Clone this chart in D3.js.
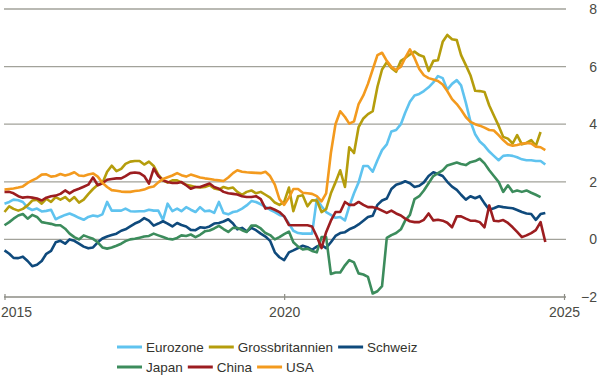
<!DOCTYPE html>
<html>
<head>
<meta charset="utf-8">
<script src="https://cdn.jsdelivr.net/npm/d3@7"></script>
<style>
  body { margin: 0; background: #fff; }
  svg text { font-family: "Liberation Sans", Arial, sans-serif; }
</style>
</head>
<body>
<div id="chart"></div>
<script>
// monthly core inflation, y/y in %, first month = Jan 2015
var startMonth = new Date(2015, 0, 1);

var eurozone = [
  1.24, 1.3, 1.38, 1.36, 1.3, 1.1, 1.02, 1.07, 0.97, 0.99,
  1.03, 0.7, 0.78, 0.85, 0.9, 0.83, 0.75, 0.68, 0.78, 0.83,
  0.8, 0.87, 1.3, 1.0, 1.0, 1.0, 1.07, 0.98, 0.97, 0.98,
  0.98, 1.03, 1.0, 1.0, 0.68, 1.24, 0.98, 1.07, 0.98, 1.12,
  1.03, 0.95, 1.12, 0.98, 1.0, 0.92, 1.3, 0.92, 0.87, 0.95,
  0.98, 1.07, 1.18, 1.33, 1.3, 1.22, 1.13, 1.03, 0.95, 0.85,
  0.8, 0.55, 0.3, 0.22, 0.2, 0.2, 0.2, 1.4, 1.15, 0.95,
  0.85, 0.75, 0.78, 0.66, 1.15, 1.6, 1.98, 2.55, 2.55, 2.35,
  2.75, 3.1, 3.3, 3.75, 3.8, 4.0, 4.4, 4.78, 5.0, 5.05,
  5.15, 5.28, 5.45, 5.67, 5.6, 5.2, 5.4, 5.53, 5.35, 4.75,
  4.1, 3.65, 3.4, 3.25, 3.05, 2.9, 2.75, 2.9, 2.92, 2.9,
  2.85, 2.78, 2.75, 2.75, 2.72, 2.72, 2.6
];

var grossbritannien = [
  0.95, 1.15, 1.06, 1.0, 1.06, 1.18, 1.35, 1.38, 1.24, 1.41,
  1.3, 1.47, 1.38, 1.47, 1.33, 1.47, 1.28, 1.38, 1.57, 1.75,
  1.9, 1.95, 2.35, 2.56, 2.37, 2.45, 2.62, 2.7, 2.72, 2.72,
  2.6, 2.7, 2.55, 2.25, 2.05, 1.97, 2.05, 2.05, 1.98, 1.9,
  1.86, 1.82, 1.8, 1.82, 1.88, 1.77, 1.73, 1.82, 1.77, 1.8,
  1.65, 1.55, 1.65, 1.7, 1.6, 1.65, 1.55, 1.45, 1.28, 1.2,
  1.3, 1.8, 0.98, 1.5, 1.53, 1.15, 1.36, 1.35, 0.95, 1.05,
  1.6, 1.98, 2.4, 1.82, 3.2, 3.0, 3.9, 4.2, 4.35, 4.45,
  5.3, 5.9, 6.15, 5.95, 5.82, 6.2, 6.3, 6.42, 6.52, 6.4,
  6.34, 5.85, 6.2, 6.22, 6.86, 7.1, 6.95, 6.92, 6.4, 6.05,
  5.7, 5.16, 5.15, 5.12, 4.65, 4.3, 3.95, 3.56, 3.5, 3.33,
  3.62, 3.3, 3.35, 3.45, 3.25, 3.73, null
];

var schweiz = [
  -0.38, -0.5, -0.64, -0.65, -0.6, -0.75, -0.93, -0.88, -0.75, -0.5,
  -0.4, -0.1, -0.05, -0.15, 0.0, -0.05, -0.15, -0.25, -0.31, -0.28,
  -0.1, 0.03, 0.1, 0.15, 0.2, 0.3, 0.35, 0.45, 0.55, 0.62,
  0.74, 0.65, 0.48, 0.55, 0.63, 0.55, 0.45, 0.57, 0.5, 0.45,
  0.33, 0.32, 0.42, 0.4, 0.45, 0.55, 0.57, 0.62, 0.7, 0.55,
  0.35, 0.4, 0.28, 0.4, 0.32, 0.2, 0.1, -0.05, -0.45, -0.62,
  -0.72, -0.45, -0.38, -0.3, -0.22, -0.27, -0.36, -0.25, -0.2, -0.3,
  -0.1, 0.12, 0.22, 0.25, 0.35, 0.42, 0.52, 0.65, 0.78, 0.82,
  1.2, 1.35, 1.42, 1.75, 1.9, 1.95, 2.02, 1.95, 1.82, 1.86,
  1.98, 2.2, 2.33, 2.27, 2.2, 2.0, 1.83, 1.72, 1.55, 1.38,
  1.5, 1.43, 1.5, 1.25, 1.03, 1.08, 1.15, 1.12, 1.1, 1.08,
  1.02, 0.95, 0.9, 0.88, 0.68, 0.88, 0.92
];

var japan = [
  0.49, 0.6, 0.72, 0.83, 0.88, 0.72, 0.85, 0.78, 0.6, 0.57,
  0.54, 0.49, 0.49, 0.37, 0.2, 0.08, 0.0, 0.14, 0.08, 0.02,
  -0.1, -0.28, -0.32, -0.28, -0.22, -0.15, -0.06, 0.0, 0.02, 0.06,
  0.1, 0.12, 0.2, 0.14, 0.08, 0.02, 0.0, 0.05, 0.14, 0.12,
  0.17, 0.08, 0.16, 0.28, 0.31, 0.38, 0.47, 0.36, 0.26, 0.4,
  0.4, 0.32, 0.26, 0.48, 0.48, 0.38, 0.22, 0.15, 0.0, 0.08,
  0.18, 0.27, -0.1, -0.25, -0.35, -0.32, -0.4, -0.45, 0.08, 0.08,
  -1.2, -1.15, -1.15, -0.9, -0.72, -0.8, -1.18, -1.22, -1.3, -1.88,
  -1.8, -1.62, 0.05, 0.15, 0.22, 0.35, 0.65, 0.85, 1.4, 1.5,
  1.7, 1.95, 2.2, 2.3, 2.4, 2.57, 2.62, 2.67, 2.62, 2.58,
  2.68, 2.72, 2.8, 2.64, 2.4, 2.2, 2.0, 1.65, 1.88, 1.65,
  1.7, 1.65, 1.7, 1.62, 1.55, 1.47, null
];

var china = [
  1.65, 1.65, 1.6, 1.5, 1.45, 1.47, 1.45, 1.42, 1.35, 1.45,
  1.5, 1.52, 1.58, 1.7, 1.6, 1.7, 1.76, 1.83, 1.9, 2.15,
  1.88, 1.95, 2.07, 2.1, 2.12, 2.12, 2.2, 2.3, 2.32, 2.3,
  2.2, 1.94, 2.46, 2.2, 2.05, 1.99, 1.96, 1.96, 1.99, 1.88,
  1.76, 1.82, 1.82, 1.88, 1.94, 1.82, 1.76, 1.65, 1.6, 1.58,
  1.56, 1.5, 1.47, 1.47, 1.5, 1.4, 1.07, 1.1, 1.03, 0.95,
  0.8, 0.5, 0.49, 0.49, 0.49, 0.49, 0.45, 0.1, -0.3, 0.25,
  0.65, 0.95, 0.95, 1.3, 1.2, 1.2, 1.3, 1.2, 1.12, 1.12,
  1.08, 1.0, 0.92, 1.0, 0.9, 0.83, 0.72, 0.63, 0.6, 0.6,
  0.68, 0.9, 0.66, 0.68, 0.65, 0.58, 0.42, 0.8, 0.8, 0.72,
  0.65, 0.65, 0.6, 0.42, 1.18, 0.65, 0.63, 0.67, 0.57, 0.42,
  0.26, 0.08, 0.14, 0.22, 0.32, 0.6, -0.09
];

var usa = [
  1.73, 1.75, 1.77, 1.8, 1.84, 1.96, 2.05, 2.13, 2.25, 2.26,
  2.18, 2.2, 2.27, 2.22, 2.26, 2.33, 2.22, 2.2, 2.25, 2.29,
  2.18, 1.97, 1.82, 1.71, 1.69, 1.66, 1.65, 1.65, 1.68, 1.7,
  1.73, 1.8, 1.84, 1.98, 2.1, 2.16, 2.22, 2.3, 2.23, 2.18,
  2.25, 2.2, 2.15, 2.12, 2.1, 2.07, 2.05, 2.03, 2.15, 2.3,
  2.4, 2.35, 2.33, 2.32, 2.31, 2.3, 2.35, 2.2, 1.9, 1.4,
  1.2, 1.45, 1.75, 1.75, 1.62, 1.6, 1.58, 1.5, 1.32, 1.6,
  3.0, 4.0, 4.45, 4.25, 4.02, 4.1, 4.7, 5.0, 5.4, 5.9,
  6.4, 6.48, 6.2, 5.99, 5.88, 6.0, 6.3, 6.6, 6.3, 5.92,
  5.7, 5.6, 5.55, 5.5, 5.38, 5.15, 4.87, 4.7, 4.5, 4.25,
  4.08, 4.0, 3.95, 3.88, 3.8, 3.78, 3.62, 3.45, 3.3, 3.25,
  3.28, 3.32, 3.35, 3.33, 3.22, 3.2, 3.1
];

var seriesNames = ["Eurozone", "Grossbritannien", "Schweiz", "Japan", "China", "USA"];
var seriesValues = [eurozone, grossbritannien, schweiz, japan, china, usa];
var seriesColors = ["#5fc3ef", "#b59d0c", "#0f4a7c", "#3c8c5c", "#9c1d20", "#f39a1e"];

var yTicks = [-2, 0, 2, 4, 6, 8];
var xTicks = [2015, 2020, 2025];

var width = 600,
    height = 380;

var svg = d3.select("#chart").append("svg")
    .attr("width", width)
    .attr("height", height);

var x = d3.scaleTime()
    .domain([new Date(2015, 0, 1), new Date(2025, 0, 1)])
    .range([4.5, 564]);

var y = d3.scaleLinear()
    .domain([-2, 8])
    .range([297, 9]);

// gridlines
svg.append("g")
    .selectAll("line")
    .data(yTicks.filter(function(d) { return d > -2; }))
    .enter().append("line")
    .attr("x1", 4)
    .attr("x2", 566)
    .attr("y1", function(d) { return y(d); })
    .attr("y2", function(d) { return y(d); })
    .attr("stroke", "#a2a29a")
    .attr("stroke-width", 1.3);

// right value labels
svg.append("g")
    .selectAll("text")
    .data(yTicks)
    .enter().append("text")
    .attr("x", 597)
    .attr("y", function(d) { return y(d); })
    .attr("dy", "0.36em")
    .attr("text-anchor", "end")
    .attr("font-size", 14)
    .attr("fill", "#4a4a44")
    .text(function(d) { return d < 0 ? "\u2212" + Math.abs(d) : d; });

// bottom axis
var xAxis = svg.append("g")
    .attr("transform", "translate(0," + y(-2) + ")")
    .call(d3.axisBottom(x)
        .tickValues(xTicks.map(function(d) { return new Date(d, 0, 1); }))
        .tickSizeInner(3)
        .tickSizeOuter(0)
        .tickPadding(7)
        .tickFormat(d3.timeFormat("%Y")));

xAxis.select(".domain")
    .attr("d", "M4,0H566")
    .attr("stroke", "#8d8d85")
    .attr("stroke-width", 1.4);

xAxis.selectAll(".tick line")
    .attr("y1", -3)
    .attr("y2", 3)
    .attr("stroke", "#8d8d85")
    .attr("stroke-width", 1.2);

xAxis.selectAll(".tick text")
    .attr("font-size", 14)
    .attr("font-family", null)
    .attr("fill", "#4a4a44")
    .attr("text-anchor", function(d, i) { return i === 0 ? "start" : "middle"; })
    .attr("dx", function(d, i) { return i === 0 ? -4 : 0; });

// lines
var line = d3.line()
    .defined(function(d) { return d != null; })
    .x(function(d, i) { return x(d3.timeMonth.offset(startMonth, i)); })
    .y(function(d) { return y(d); });

svg.append("g")
    .selectAll("path")
    .data(seriesValues)
    .enter().append("path")
    .attr("fill", "none")
    .attr("stroke", function(d, i) { return seriesColors[i]; })
    .attr("stroke-width", 2.6)
    .attr("stroke-linejoin", "round")
    .attr("d", line);

// legend
var legendRows = [[0, 1, 2], [3, 4, 5]];
var legend = svg.append("g").attr("class", "legend");

legendRows.forEach(function(row, r) {
    var cx = 117;
    var cy = 347 + r * 20;
    row.forEach(function(k) {
        legend.append("line")
            .attr("x1", cx)
            .attr("x2", cx + 25)
            .attr("y1", cy)
            .attr("y2", cy)
            .attr("stroke", seriesColors[k])
            .attr("stroke-width", 3);
        var t = legend.append("text")
            .attr("x", cx + 29)
            .attr("y", cy)
            .attr("dy", "0.36em")
            .attr("font-size", 13.5)
            .attr("fill", "#33332d")
            .text(seriesNames[k]);
        cx += 29 + t.node().getComputedTextLength() + 5;
    });
});
</script>
</body>
</html>
